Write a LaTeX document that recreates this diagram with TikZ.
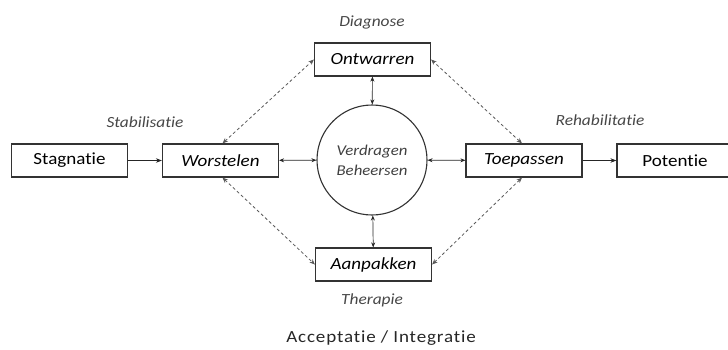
\documentclass[tikz,border=0pt]{standalone}
\usepackage{fontspec}
\setmainfont{Carlito}[FakeStretch=1.12, Ligatures=NoCommon]
\usetikzlibrary{arrows.meta}
\begin{document}
\begin{tikzpicture}[x=1pt,y=-1pt,
  box/.style={draw=black!80, line width=1.2pt, minimum width=116pt, minimum height=33pt, inner sep=0pt, font=\fontsize{17}{19}\selectfont},
  ibox/.style={box, font=\fontsize{17}{19}\selectfont\itshape},
  lab/.style={font=\fontsize{15.5}{18}\selectfont\itshape, text=black!72, inner sep=0pt},
  conn/.style={-{Stealth[length=6pt,width=4.5pt]}, line width=0.8pt, draw=black!85},
  biconn/.style={{Stealth[length=5pt,width=4pt]}-{Stealth[length=5pt,width=4pt]}, line width=0.7pt, draw=black!85},
  dconn/.style={{Stealth[length=5.5pt,width=4.5pt]}-{Stealth[length=5.5pt,width=4.5pt]}, line width=0.8pt, dash pattern=on 3pt off 2.5pt, draw=black!65},
  ]
\useasboundingbox (0,0) rectangle (728,349);
\clip (0,0) rectangle (728,349);
\node[box] (stag) at (69.5,160.5) {Stagnatie};
\node[ibox] (wor) at (220.5,160.5) {Worstelen};
\node[ibox] (ont) at (372.5,59.5) {Ontwarren};
\node[ibox] (aan) at (373.5,264.5) {Aanpakken};
\node[ibox] (toe) at (524,160.5) {Toepassen};
\node[box] (pot) at (675,160.5) {Potentie};
\node[draw=black!80, line width=1.1pt, circle, minimum size=110pt, inner sep=0pt, align=center,
  font=\fontsize{15}{20}\selectfont\itshape, text=black!75] (cir) at (372,160) {Verdragen\\Beheersen};

\node[lab] (l1) at (372,22) {Diagnose};
\node[lab] (l2) at (145,122) {Stabilisatie};
\node[lab] (l3) at (600,120) {Rehabilitatie};
\node[lab] (l4) at (372,300) {Therapie};
\node[font=\fontsize{17}{18}\selectfont\addfontfeature{LetterSpace=5}, text=black!85, inner sep=0pt] (l5) at (381,338) {Acceptatie / Integratie};

\draw[conn] (stag) -- (wor);
\draw[conn] (toe) -- (pot);
\draw[biconn] (wor) -- (cir);
\draw[biconn] (cir) -- (toe);
\draw[biconn] (ont) -- (cir);
\draw[biconn] (cir) -- (aan);
\draw[dconn] ([xshift=2pt]wor.north) -- (ont.west);
\draw[dconn] ([xshift=2pt]wor.south) -- (aan.west);
\draw[dconn] ([xshift=-2pt]toe.north) -- (ont.east);
\draw[dconn] ([xshift=-2pt]toe.south) -- (aan.east);
\end{tikzpicture}
\end{document}
